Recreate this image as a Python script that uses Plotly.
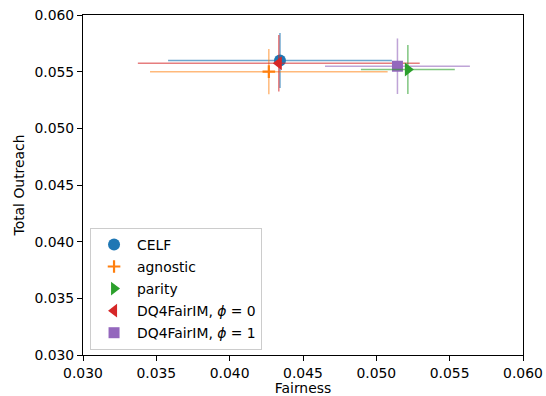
import plotly.graph_objects as go

methods = ["CELF", "agnostic", "parity", "DQ4FairIM, <i>ϕ</i> = 0", "DQ4FairIM, <i>ϕ</i> = 1"]
fairness = [0.04343, 0.04267, 0.05215, 0.04335, 0.05144]
fairness_err = [0.00763, 0.0081, 0.0032, 0.00961, 0.00494]
outreach = [0.05598, 0.05500, 0.05519, 0.05574, 0.05548]
outreach_err = [0.00243, 0.0020, 0.00216, 0.0025, 0.00245]

colors = ["#1f77b4", "#ff7f0e", "#2ca02c", "#d62728", "#9467bd"]
rgba = ["rgba(31,119,180,0.65)", "rgba(255,127,14,0.55)", "rgba(44,160,44,0.6)",
        "rgba(214,39,40,0.6)", "rgba(148,103,189,0.6)"]
symbols = ["circle", "cross-thin", "triangle-right", "triangle-left", "square"]
sizes = [12, 9, 12, 12, 11]
draw_order = [0, 1, 3, 4, 2]

fig = go.Figure()
for i in draw_order:
    mk = dict(color=colors[i], size=sizes[i], symbol=symbols[i], line=dict(width=0))
    if symbols[i] == "cross-thin":
        mk["line"] = dict(width=2.2, color=colors[i])
    fig.add_trace(go.Scatter(
        x=[fairness[i]], y=[outreach[i]], mode="markers", name=methods[i],
        marker=mk, legendrank=i + 1, legendgroup="g%d" % i,
        error_x=dict(type="data", array=[fairness_err[i]], color=rgba[i], thickness=1.5, width=0),
        error_y=dict(type="data", array=[outreach_err[i]], color=rgba[i], thickness=1.5, width=0),
    ))

tf = dict(family="DejaVu Sans", size=13.9, color="black")
axis_common = dict(showline=True, linecolor="black", linewidth=1, mirror=True,
                   ticks="outside", ticklen=5, tickwidth=1, tickcolor="black",
                   showgrid=False, zeroline=False, automargin=False,
                   tickfont=tf)
ticks = [0.030, 0.035, 0.040, 0.045, 0.050, 0.055, 0.060]
fig.update_xaxes(range=[0.030, 0.060], tickvals=ticks, tickformat=".3f",
                 title=dict(text="Fairness", font=tf, standoff=5), **axis_common)
fig.update_yaxes(range=[0.030, 0.060], tickvals=ticks, tickformat=".3f",
                 title=dict(text="Total Outreach", font=tf, standoff=6), **axis_common)

fig.update_layout(
    width=546, height=396,
    margin=dict(l=83, r=23, t=15, b=41, autoexpand=False),
    paper_bgcolor="white", plot_bgcolor="white",
    font=tf,
    legend=dict(x=0.016, y=0.015, xanchor="left", yanchor="bottom",
                bgcolor="rgba(255,255,255,0.8)", bordercolor="#cccccc", borderwidth=1,
                font=tf, itemwidth=36, tracegroupgap=1,
                itemsizing="trace"),
    showlegend=True,
)

fig.write_html("out.html")
